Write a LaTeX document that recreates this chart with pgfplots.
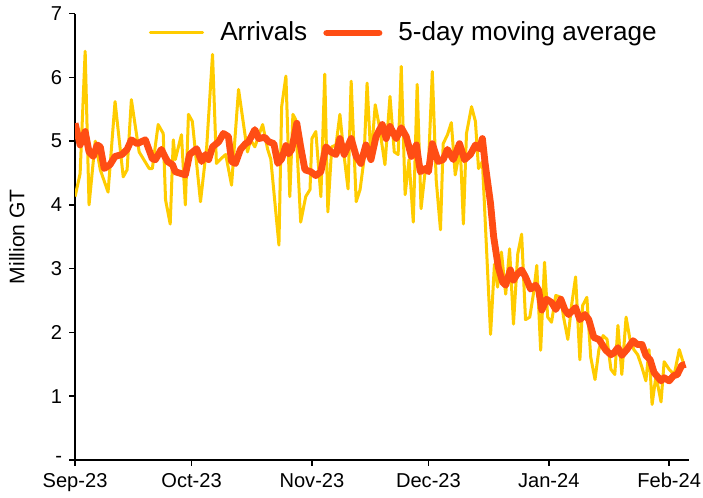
\documentclass[border=0pt]{standalone}
\usepackage{pgfplots}
\pgfplotsset{compat=1.18}
\usepackage{fontspec}
\setmainfont{Liberation Sans}
\definecolor{arrYellow}{RGB}{255,204,0}
\definecolor{maOrange}{RGB}{255,77,20}
\begin{document}
\begin{tikzpicture}
\begin{axis}[
  scale only axis,
  width=305.5pt, height=222.25pt,
  xmin=0, xmax=158, ymin=0, ymax=7,
  axis x line=bottom, axis y line=left,
  axis line style={-, black, line width=0.8pt},
  xtick={0,30,61,91,122,153},
  xticklabels={Sep-23,Oct-23,Nov-23,Dec-23,Jan-24,Feb-24},
  ytick={0,1,2,3,4,5,6,7},
  yticklabels={-,1,2,3,4,5,6,7},
  tick align=outside,
  major tick length=3pt,
  tick style={black, line width=0.8pt},
  ticklabel style={font=\fontsize{10}{12}\selectfont},
  xticklabel style={inner xsep=1pt},
  ylabel={Million GT},
  ylabel style={font=\fontsize{10.5}{12}\selectfont, at={(axis description cs:-0.095,0.5)}, anchor=center, inner sep=4.5pt},
  legend style={at={(0.11,1.0)}, anchor=north west, draw=none, fill=none,
    font=\fontsize{13}{14}\selectfont, legend columns=2,
    column sep=6pt},
  legend image code/.code={\draw[#1, line cap=round] (0pt,0pt) -- (26pt,0pt);},
  line join=round,
]
\addplot[color=arrYellow, line width=1.5pt] coordinates {
(0,4.13)(1.3,4.49)(2.6,6.41)(3.6,4.00)(5.2,5.00)(6.5,4.55)(8.5,4.20)(10.3,5.62)
(12.4,4.44)(13.4,4.55)(14.5,5.65)(16.5,4.83)(19.1,4.57)(19.9,4.57)(21.4,5.26)
(22.7,5.12)(23.3,4.08)(24.5,3.70)(25.3,5.02)(25.8,4.71)(27.4,5.10)(28.4,4.00)
(29.2,5.42)(30.2,5.31)(32.3,4.05)(33.9,4.91)(35.4,6.36)(36.4,4.65)(37.5,4.72)
(38.8,4.79)(40.3,4.31)(42.1,5.81)(44.4,4.83)(45.2,5.02)(46.3,4.91)(48.3,5.26)
(49.6,4.87)(50.4,4.72)(52.5,3.37)(53.2,5.54)(54.3,6.02)(55.3,4.13)(56.1,5.42)
(56.8,5.34)(58.1,3.73)(59.4,4.13)(60.5,4.24)(61.0,5.04)(62.0,5.15)(63.3,4.13)
(64.3,6.05)(65.1,3.89)(66.1,4.91)(67.2,4.94)(68.2,5.42)(69.3,4.76)(70.3,4.25)
(71.1,5.94)(72.4,4.05)(73.4,4.24)(74.4,4.71)(75.2,5.91)(76.2,4.71)(77.3,5.57)
(78.3,5.25)(79.8,4.63)(81.1,5.70)(82.2,4.83)(83.2,4.79)(84.0,6.17)(85.0,4.16)
(86.0,4.71)(87.1,3.73)(88.1,5.89)(89.1,3.94)(90.2,4.55)(91.0,4.60)(92.0,6.09)
(93.0,4.39)(94.1,3.61)(94.8,4.96)(95.9,5.10)(96.9,5.29)(97.9,4.47)(99.2,4.91)
(100.0,3.70)(100.8,5.12)(102.1,5.54)(103.1,5.31)(103.9,4.57)(104.9,4.68)
(107.0,1.97)(108.0,3.07)(108.8,2.71)(109.8,3.26)(110.9,2.60)(111.9,3.31)
(112.9,2.13)(114.0,3.23)(115.0,3.54)(116.0,2.20)(117.1,2.24)(118.1,2.63)
(118.9,3.05)(119.9,1.72)(120.9,3.10)(121.7,2.24)(122.7,2.16)(123.8,2.58)
(125.1,2.55)(125.8,2.24)(126.9,1.89)(127.9,2.44)(128.9,2.87)(130.0,1.57)
(130.7,2.42)(131.8,2.55)(132.8,1.61)(133.9,1.26)(134.9,1.73)(136.0,1.95)
(137.0,1.89)(138.0,1.42)(139.0,1.34)(139.8,2.11)(140.8,1.34)(141.9,2.24)
(142.9,1.89)(143.9,1.73)(144.9,1.65)(146.0,1.45)(147.0,1.24)(147.8,1.73)
(148.6,0.87)(149.6,1.32)(150.9,0.91)(151.7,1.54)(153.0,1.42)(154.3,1.34)
(155.6,1.73)(156.6,1.53)
};
\addlegendentry{Arrivals}
\addplot[color=maOrange, line width=3.4pt] coordinates {
(0,5.28)(1.3,4.94)(2.6,5.15)(3.6,4.83)(4.7,4.76)(5.7,4.94)(6.5,4.91)(7.5,4.57)
(9.0,4.63)(10.3,4.76)(12.1,4.79)(13.4,4.87)(14.5,5.02)(16.0,4.96)(18.1,5.02)
(19.9,4.72)(20.7,4.71)(22.2,4.87)(23.8,4.68)(25.1,4.63)(25.8,4.52)(28.4,4.47)
(29.5,4.79)(31.3,4.88)(32.6,4.68)(33.6,4.79)(34.4,4.71)(35.4,4.91)(37.0,4.99)
(38.2,5.12)(39.5,5.07)(40.3,4.68)(41.3,4.65)(42.6,4.87)(43.9,4.96)(44.7,4.99)
(46.3,5.18)(47.3,5.04)(48.8,5.06)(49.9,4.99)(51.2,4.96)(52.2,4.65)(53.2,4.72)
(54.3,4.93)(55.0,4.80)(55.8,4.87)(57.1,5.28)(58.1,4.91)(59.2,4.55)(60.7,4.52)
(62.0,4.46)(63.3,4.52)(64.6,4.91)(65.9,4.83)(67.2,4.79)(68.2,5.04)(69.3,4.79)
(71.1,5.04)(72.4,4.76)(73.6,4.65)(74.9,4.94)(76.2,4.71)(77.5,5.07)(79.1,5.26)
(80.1,5.04)(81.1,5.23)(82.7,5.04)(84.0,5.21)(85.3,5.07)(86.6,4.76)(87.9,4.94)
(88.9,4.52)(90.2,4.57)(91.0,4.52)(92.0,4.96)(93.5,4.68)(94.8,4.71)(95.9,4.87)
(97.4,4.71)(99.0,4.96)(100.3,4.71)(101.8,4.79)(103.1,4.94)(104.1,4.88)
(104.9,5.04)(105.6,4.65)(107.0,4.02)(107.8,3.50)(109.0,3.02)(110.1,2.79)
(110.9,2.74)(112.1,2.98)(112.9,2.82)(113.7,2.90)(115.0,2.98)(116.0,2.87)
(117.3,2.68)(118.6,2.74)(119.4,2.66)(120.2,2.35)(121.4,2.52)(122.7,2.47)
(123.8,2.36)(125.1,2.52)(126.1,2.36)(127.1,2.28)(128.9,2.39)(130.0,2.20)
(131.3,2.28)(132.3,2.20)(133.6,1.92)(134.9,1.89)(136.7,1.72)(138.0,1.65)
(138.8,1.68)(139.8,1.76)(140.8,1.64)(142.1,1.73)(143.7,1.87)(144.8,1.81)
(146.0,1.81)(147.0,1.64)(148.1,1.57)(149.1,1.37)(150.9,1.24)(151.7,1.29)
(153.0,1.24)(154.1,1.32)(155.1,1.34)(156.2,1.48)(157.2,1.50)
};
\addlegendentry{5-day moving average}
\end{axis}
\end{tikzpicture}
\end{document}
